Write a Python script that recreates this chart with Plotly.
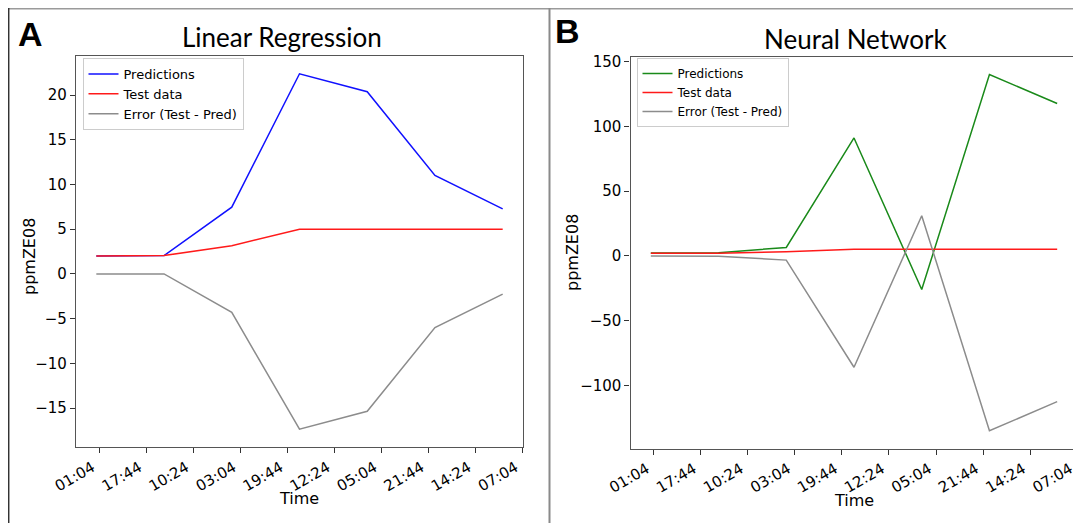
import pandas as pd
import plotly.graph_objects as go

# ---------------- data ----------------
dates = ["2021-01-01", "2021-01-02", "2021-01-03", "2021-01-04",
         "2021-01-05", "2021-01-06", "2021-01-07"]

lr_pred = [2.0, 2.05, 7.46, 22.38, 20.38, 11.02, 7.28]
lr_test = [2.0, 2.05, 3.16, 5.0, 5.0, 5.0, 5.0]
lr_err = [0.0, 0.0, -4.3, -17.37, -15.37, -6.01, -2.26]

nn_pred = [2.1, 2.3, 6.5, 91.0, -26.0, 140.0, 117.6]
nn_test = [2.0, 2.05, 3.16, 5.0, 5.0, 5.0, 5.0]
nn_err = [-0.1, -0.25, -3.3, -86.0, 31.0, -135.0, -112.6]

series_names = ["Predictions", "Test data", "Error (Test - Pred)"]
panel_titles = ["Linear Regression", "Neural Network"]
panel_letters = ["A", "B"]
x_title = "Time"
y_title = "ppmZE08"
tick_start = "2021-01-01 01:04"
tick_step_minutes = 1000

# the page body has an 8px margin, so the figure is drawn 8px in from the window edge
OFF = 8
W, H = 1081 - OFF, 523 - OFF

x = pd.to_datetime(dates)
span = x[-1] - x[0]
xrange = [x[0] - 0.05 * span, x[-1] + 0.05 * span]


def yr(*arrs):
    lo = min(min(a) for a in arrs)
    hi = max(max(a) for a in arrs)
    pad = 0.05 * (hi - lo)
    return [lo - pad, hi + pad]


fig = go.Figure()

tick_font = dict(family="DejaVu Sans", size=15, color="black")

panels = [
    dict(pred=lr_pred, test=lr_test, err=lr_err, pcol="#1010ff", xa="x", ya="y",
         legend="legend"),
    dict(pred=nn_pred, test=nn_test, err=nn_err, pcol="#1a8a1a", xa="x2", ya="y2",
         legend="legend2"),
]

for p in panels:
    cols = [p["pcol"], "#ff1a1a", "#8c8c8c"]
    for name, vals, c in zip(series_names, [p["pred"], p["test"], p["err"]], cols):
        fig.add_trace(go.Scatter(x=x, y=vals, mode="lines", name=name,
                                 line=dict(color=c, width=1.5),
                                 xaxis=p["xa"], yaxis=p["ya"], legend=p["legend"]))


# window-pixel -> paper coordinate helpers
def px_x(v):
    return (v - OFF) / W


def px_y(v):
    return 1 - (v - OFF) / H


axis_common = dict(showgrid=False, zeroline=False, showline=True, mirror=True,
                   linecolor="#555555", linewidth=1.2, ticks="outside", ticklen=5,
                   tickcolor="#333333", tickfont=tick_font, automargin=False,
                   ticklabeloverflow="allow")

xa_common = dict(axis_common, type="date", range=xrange, tick0=tick_start,
                 dtick=tick_step_minutes * 60 * 1000, tickformat="%H:%M",
                 tickangle=-30, ticklabelshift=-7)

fig.update_layout(
    width=W, height=H,
    margin=dict(l=0, r=0, t=0, b=0),
    paper_bgcolor="white", plot_bgcolor="white",
    xaxis=dict(xa_common, domain=[px_x(76), px_x(523)], anchor="y"),
    yaxis=dict(axis_common, domain=[px_y(447), px_y(56)], anchor="x",
               range=yr(lr_pred, lr_test, lr_err), dtick=5),
    xaxis2=dict(xa_common, domain=[px_x(630.5), px_x(1077.5)], anchor="y2"),
    yaxis2=dict(axis_common, domain=[px_y(448.5), px_y(56.7)], anchor="x2",
                range=yr(nn_pred, nn_test, nn_err), dtick=50),
    legend=dict(x=px_x(82.5), y=px_y(58), xanchor="left", yanchor="top",
                bgcolor="white", bordercolor="#cccccc", borderwidth=1,
                font=dict(family="DejaVu Sans", size=13, color="black"),
                itemwidth=30, tracegroupgap=0),
    legend2=dict(x=px_x(636.5), y=px_y(58), xanchor="left", yanchor="top",
                 bgcolor="white", bordercolor="#cccccc", borderwidth=1,
                 font=dict(family="DejaVu Sans", size=12, color="black"),
                 itemwidth=30, tracegroupgap=0),
    showlegend=True,
)

# borders / divider
fig.add_shape(type="line", xref="paper", yref="paper",
              x0=0, x1=1, y0=px_y(8.5), y1=px_y(8.5),
              line=dict(color="#9a9a9a", width=2))
fig.add_shape(type="line", xref="paper", yref="paper",
              x0=px_x(8.7), x1=px_x(8.7), y0=0, y1=px_y(8),
              line=dict(color="#333333", width=1.5))
fig.add_shape(type="line", xref="paper", yref="paper",
              x0=px_x(549.5), x1=px_x(549.5), y0=0, y1=px_y(8),
              line=dict(color="#8a8a8a", width=2))

# titles, letters, axis titles
ann = []
for title, cx, cy in zip(panel_titles, [282, 855], [37, 39]):
    ann.append(dict(text=title, x=px_x(cx), y=px_y(cy), xref="paper", yref="paper",
                    showarrow=False, xanchor="center", yanchor="middle",
                    font=dict(family="Lato", size=26, color="black")))
for letter, cx, cy in zip(panel_letters, [30, 567.5], [34, 31]):
    ann.append(dict(text="<b>" + letter + "</b>", x=px_x(cx), y=px_y(cy),
                    xref="paper", yref="paper", showarrow=False,
                    xanchor="center", yanchor="middle",
                    font=dict(family="Liberation Sans", size=34, color="black")))
for cx, cy in [(299, 498), (854, 500)]:
    ann.append(dict(text=x_title, x=px_x(cx), y=px_y(cy), xref="paper", yref="paper",
                    showarrow=False, xanchor="center", yanchor="middle",
                    font=dict(family="DejaVu Sans", size=16, color="black")))
for cx, cy in [(30, 257), (572, 253)]:
    ann.append(dict(text=y_title, x=px_x(cx), y=px_y(cy), xref="paper", yref="paper",
                    showarrow=False, xanchor="center", yanchor="middle", textangle=-90,
                    font=dict(family="DejaVu Sans", size=16, color="black")))
fig.update_layout(annotations=ann)

fig.write_html("out.html")
